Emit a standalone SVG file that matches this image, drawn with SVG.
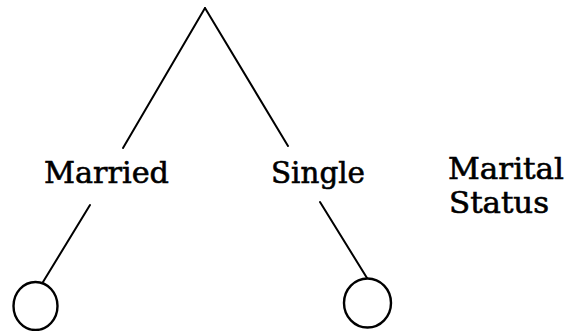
<svg xmlns="http://www.w3.org/2000/svg" width="568" height="331" viewBox="0 0 568 331">
<style>
.c{fill:none;stroke:#000;stroke-width:2;stroke-linecap:round}
.n{fill:#fff;stroke:#000;stroke-width:2.4}
.t{font-family:"DejaVu Serif","Liberation Serif",serif;font-size:30px;fill:#000;stroke:#000;stroke-width:0.6}
.s{font-size:29px}
</style>
<rect width="568" height="331" fill="#fff"/>
<g id="connectors">
<line class="c" x1="205" y1="8" x2="123" y2="148"/>
<line class="c" x1="205" y1="8" x2="288" y2="146"/>
<line class="c" x1="90" y1="205" x2="43" y2="282"/>
<line class="c" x1="320" y1="202" x2="367" y2="278"/>
</g>
<g id="married"><text class="t" x="44" y="183" textLength="125" lengthAdjust="spacingAndGlyphs">Married</text></g>
<g id="single"><text class="t" x="271" y="183" textLength="94" lengthAdjust="spacingAndGlyphs">Single</text></g>
<g id="marital-status"><text class="t s" x="448" y="179" textLength="116" lengthAdjust="spacingAndGlyphs">Marital</text><text class="t s" x="449" y="213" textLength="100" lengthAdjust="spacingAndGlyphs">Status</text></g>
<g id="leaf-married"><ellipse class="n" cx="35.5" cy="306" rx="22" ry="24"/></g>
<g id="leaf-single"><ellipse class="n" cx="367.5" cy="303" rx="23.5" ry="24.5"/></g>
</svg>
